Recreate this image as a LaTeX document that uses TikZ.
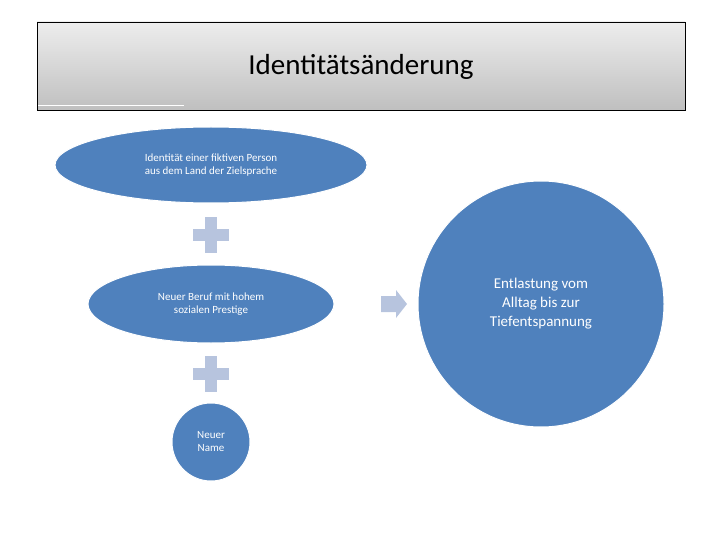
\documentclass[tikz,border=0pt]{standalone}
\usepackage{fontspec}
\setmainfont{Carlito}
\usetikzlibrary{shapes.geometric}
\definecolor{bl}{HTML}{4F81BD}
\definecolor{lb}{HTML}{B7C4DE}
\begin{document}
\begin{tikzpicture}[x=1pt,y=-1pt,
  blob/.style={fill=bl,draw=white,line width=1pt,text=white,align=center,inner sep=0pt},
  pl/.style={fill=lb,draw=none}]
\useasboundingbox (0,0) rectangle (720,540);
\shade[top color=white!93!black,bottom color=white!75!black] (37,22) rectangle (685,110);
\draw[line width=0.8pt] (37,22) rectangle (685,110);
\draw[white,line width=1pt] (38,106) -- (184,106);
\node (title) at (361,67) {\fontsize{29}{34}\selectfont Identitätsänderung};
\node[blob,ellipse,minimum width=312,minimum height=76,font=\fontsize{11}{13}\selectfont] (e1) at (211,165) {Identität einer fiktiven Person\\aus dem Land der Zielsprache};
\node[blob,ellipse,minimum width=246,minimum height=78,font=\fontsize{11}{13}\selectfont] (e2) at (211,304) {Neuer Beruf mit hohem\\sozialen Prestige};
\node[blob,circle,minimum size=78,font=\fontsize{11}{13}\selectfont] (e3) at (211,442) {Neuer\\Name};
\node[blob,circle,minimum size=246,font=\fontsize{15}{19}\selectfont] (big) at (541,304) {Entlastung vom\\Alltag bis zur\\Tiefentspannung};
\foreach \y/\n in {235/p1,374/p2}{
  \coordinate (\n) at (211,\y);
  \fill[pl] ([shift={(-18,-6)}]\n) rectangle ([shift={(18,6)}]\n);
  \fill[pl] ([shift={(-6,-18)}]\n) rectangle ([shift={(6,18)}]\n);
}
\coordinate (ar) at (381,304);
\fill[pl] ([shift={(0,-8)}]ar) -- ([shift={(15,-8)}]ar) -- ([shift={(15,-14)}]ar) -- ([shift={(26,0)}]ar) -- ([shift={(15,14)}]ar) -- ([shift={(15,8)}]ar) -- ([shift={(0,8)}]ar) -- cycle;
\end{tikzpicture}
\end{document}
